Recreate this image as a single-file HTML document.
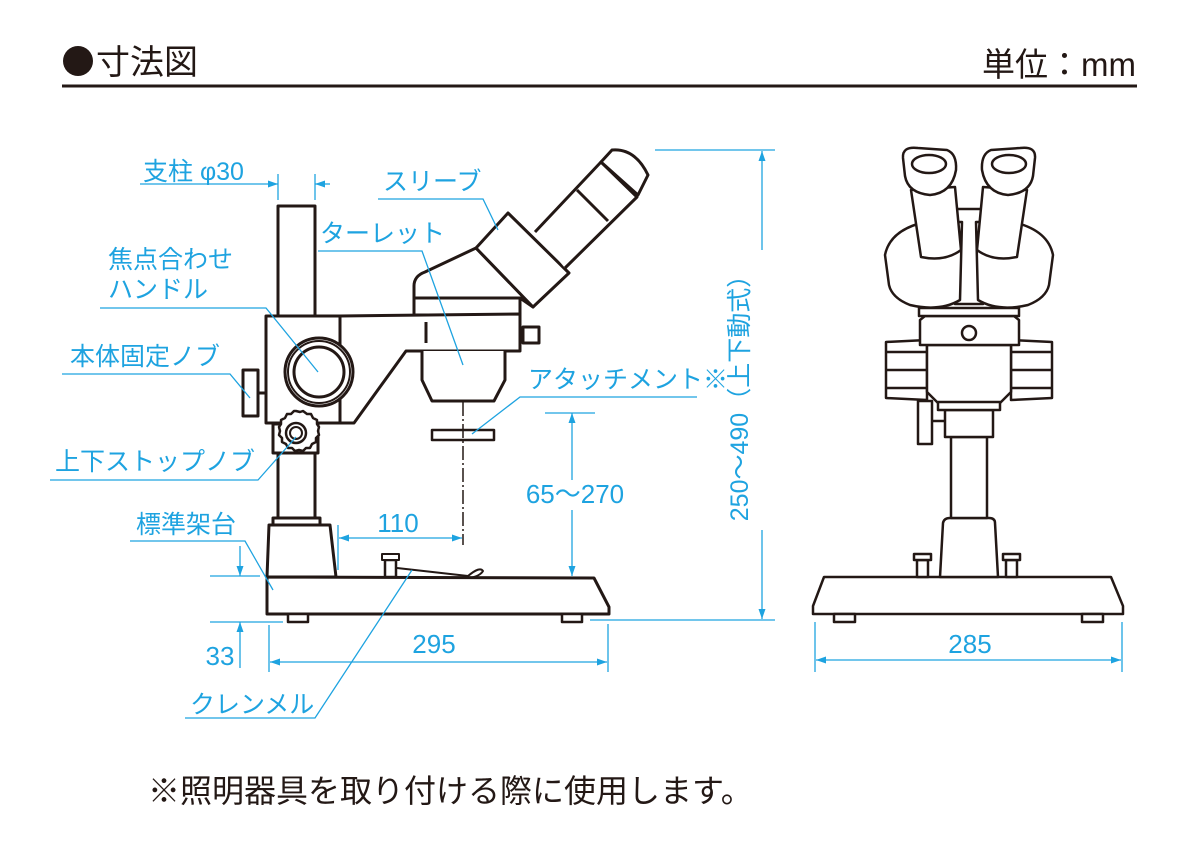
<!DOCTYPE html>
<html><head><meta charset="utf-8"><style>
html,body{margin:0;padding:0;background:#fff;}
svg{display:block;}
.b{fill:#1ea3e0;font-family:"Liberation Sans","Noto Sans CJK JP",sans-serif;font-size:25px;}
.k{fill:#231815;font-family:"Liberation Sans","Noto Sans CJK JP",sans-serif;}
</style></head><body>
<svg width="1200" height="850" viewBox="0 0 1200 850" xmlns="http://www.w3.org/2000/svg">
<defs>
<marker id="a" viewBox="0 0 10 10" refX="10" refY="5" markerWidth="10" markerHeight="10" markerUnits="userSpaceOnUse" orient="auto-start-reverse"><path d="M0,1.5 L10,5 L0,8.5z" fill="#1ea3e0"/></marker>
</defs>
<!-- title -->
<circle cx="78" cy="61" r="15" fill="#231815"/>
<text class="k" x="96" y="74" font-size="34">寸法図</text>
<text class="k" x="1136" y="76" font-size="33" text-anchor="end">単位：mm</text>
<rect x="62" y="84.5" width="1075" height="3" fill="#231815"/>

<!-- SIDE VIEW -->
<g fill="#fff" stroke="#231815" stroke-width="3" stroke-linejoin="round">
<rect x="278" y="206" width="37" height="112"/>
<path d="M414,315 L414,286 Q414,276 425,272 L476,248 L533,307 L520,298 L414,298"/>
<rect x="414" y="298" width="106" height="17"/>
<path d="M340,316 L520,314 L520,351 L406,351 L354,423 L340,423z"/>
<line x1="426" y1="322" x2="426" y2="343"/>
<rect x="523" y="327" width="16" height="16"/>
<line x1="520" y1="335" x2="523" y2="335"/>
<path d="M422,351 L422,380 L432,401 L494,401 L505,380 L505,351"/>
<rect x="432" y="430" width="62" height="10" stroke-width="2.5"/>
<path d="M476,248 L508,213 L569,273 L533,307z"/>
<path d="M535,232 L601,162 L637,197 L565,268"/>
<line x1="577" y1="190" x2="608" y2="221"/>
<path d="M601,162 L612,150 Q635,148 648,175 L638,195 z"/>
<rect x="266" y="316" width="74" height="107"/>
<circle cx="319" cy="372" r="34"/>
<circle cx="319" cy="372" r="31" stroke-width="2"/>
<circle cx="319" cy="372" r="25"/>
<rect x="243" y="370" width="15" height="46"/>
<line x1="258" y1="393" x2="266" y2="393"/>
<rect x="273" y="424" width="45" height="29"/>
<path d="M296,411 l4,1 3,-1 4,3 4,0 2,4 4,2 0,4 2,3 -1,4 1,4 -3,3 0,4 -4,2 -2,4 -4,0 -3,3 -4,-1 -4,1 -3,-3 -4,0 -2,-4 -4,-2 0,-4 -3,-3 1,-4 -1,-4 2,-3 0,-4 4,-2 2,-4 4,0 3,-3z" stroke-width="2.5"/>
<circle cx="296" cy="433" r="10" stroke-width="2.5"/>
<circle cx="296" cy="433" r="6" stroke-width="2"/>
<rect x="278" y="453" width="37" height="65"/>
<rect x="273" y="518" width="47" height="7"/>
<path d="M269,525 L330,525 L336,577 L267,577z"/>
<path d="M267,577 L594,578 L609,607 L609,614 L267,614z"/>
<rect x="288" y="614" width="20" height="8" stroke-width="2.5"/>
<rect x="562" y="614" width="20" height="8" stroke-width="2.5"/>
<rect x="385" y="560" width="11" height="17" stroke-width="2.5"/>
<rect x="382" y="554" width="17" height="6" stroke-width="2"/>
<path d="M397,568 L468,576 Q480,566 483,571 Q480,576 470,578" fill="none" stroke-width="2"/>
</g>
<line x1="463" y1="402" x2="463" y2="545" stroke="#231815" stroke-width="1.5" stroke-dasharray="14,3,2,3"/>

<!-- FRONT VIEW -->
<g fill="#fff" stroke="#231815" stroke-width="2.5" stroke-linejoin="round">
<path d="M824,577 L1111,577 L1123,606 L1123,614 L813,614 L813,606z"/>
<rect x="834" y="614" width="21" height="8"/>
<rect x="1082" y="614" width="21" height="8"/>
<rect x="917" y="560" width="11" height="17"/><rect x="914" y="554" width="17" height="6"/>
<rect x="1006" y="560" width="11" height="17"/><rect x="1003" y="554" width="17" height="6"/>
<path d="M940,577 L943,523 Q944,518 950,518 L989,518 Q995,518 995,523 L998,577z"/>
<rect x="951" y="437" width="36" height="81"/>
<rect x="918" y="401" width="14" height="43"/>
<line x1="932" y1="421" x2="945" y2="421"/>
<rect x="945" y="410" width="48" height="27"/>
<path d="M886,342 L927,340 L927,400 L886,398z"/>
<path d="M1052,342 L1011,340 L1011,400 L1052,398z"/>
<path d="M886,352 L927,352 M886,370 L927,370 M886,388 L927,388 M1011,352 L1052,352 M1011,370 L1052,370 M1011,388 L1052,388" fill="none"/>
<path d="M927,345 L1011,345 L1011,392 L1000,403 L938,403 L927,392z"/>
<rect x="938" y="402" width="62" height="8"/>
<path d="M920,320 L925,316 L1014,316 L1019,320 L1019,345 L920,345z"/>
<circle cx="969" cy="333" r="7"/>
<rect x="919" y="308" width="100" height="8"/>
<rect x="955" y="209" width="28" height="95"/>
<path d="M885,255 Q890,230 925,222 L962,222 L960,300 Q940,312 910,305 Q892,298 889,285z"/>
<path d="M1053,255 Q1048,230 1013,222 L976,222 L978,300 Q998,312 1028,305 Q1046,298 1049,285z"/>
<path d="M911,190 L955,187 L961,250 Q945,262 921,257z"/>
<path d="M1027,190 L983,187 L977,250 Q993,262 1017,257z"/>
<path d="M903,158 Q902,146 918,148 L947,150 Q957,154 956,170 Q952,193 930,195 Q908,193 905,176z"/>
<ellipse cx="929" cy="164" rx="17" ry="9"/>
<path d="M1035,158 Q1036,146 1020,148 L991,150 Q981,154 982,170 Q986,193 1008,195 Q1030,193 1033,176z"/>
<ellipse cx="1009" cy="164" rx="17" ry="9"/>
</g>

<!-- BLUE DIMENSIONS & LEADERS -->
<g stroke="#1ea3e0" stroke-width="1.3" fill="none">
<line x1="140" y1="184" x2="278" y2="184" marker-end="url(#a)"/>
<line x1="330" y1="184" x2="315" y2="184" marker-end="url(#a)"/>
<line x1="278" y1="174" x2="278" y2="200"/><line x1="315" y1="174" x2="315" y2="200"/>
<polyline points="378,199 483,199 498,230"/>
<polyline points="318,251 422,251 463,365"/>
<polyline points="100,308 266,308 318,372"/>
<polyline points="62,374 230,374 250,398"/>
<polyline points="50,480 258,480 296,437"/>
<polyline points="130,541 245,541 273,590"/>
<polyline points="697,397 520,397 472,434"/>
<polyline points="185,718 315,718 412,570"/>
<line x1="545" y1="413" x2="595" y2="413"/>
<line x1="572" y1="480" x2="572" y2="413" marker-end="url(#a)"/>
<line x1="572" y1="510" x2="572" y2="576" marker-end="url(#a)"/>
<line x1="338" y1="525" x2="338" y2="570"/>
<line x1="400" y1="538" x2="339" y2="538" marker-end="url(#a)"/>
<line x1="400" y1="538" x2="462" y2="538" marker-end="url(#a)"/>
<line x1="210" y1="576" x2="260" y2="576"/>
<line x1="210" y1="622" x2="283" y2="622"/>
<line x1="240" y1="546" x2="240" y2="576" marker-end="url(#a)"/>
<line x1="240" y1="668" x2="240" y2="622" marker-end="url(#a)"/>
<line x1="269" y1="625" x2="269" y2="672"/><line x1="608" y1="624" x2="608" y2="672"/>
<line x1="440" y1="662" x2="270" y2="662" marker-end="url(#a)"/>
<line x1="440" y1="662" x2="607" y2="662" marker-end="url(#a)"/>
<line x1="655" y1="150" x2="775" y2="150"/>
<line x1="590" y1="620" x2="775" y2="620"/>
<line x1="762" y1="250" x2="762" y2="151" marker-end="url(#a)"/>
<line x1="762" y1="530" x2="762" y2="619" marker-end="url(#a)"/>
<line x1="815" y1="622" x2="815" y2="672"/><line x1="1122" y1="622" x2="1122" y2="672"/>
<line x1="970" y1="660" x2="816" y2="660" marker-end="url(#a)"/>
<line x1="970" y1="660" x2="1121" y2="660" marker-end="url(#a)"/>
</g>
<g class="b">
<text x="143" y="180">支柱 φ30</text>
<text x="383" y="190">スリーブ</text>
<text x="320" y="242">ターレット</text>
<text x="108" y="268">焦点合わせ</text>
<text x="108" y="298">ハンドル</text>
<text x="70" y="365">本体固定ノブ</text>
<text x="55" y="470">上下ストップノブ</text>
<text x="136" y="533">標準架台</text>
<text x="528" y="388">アタッチメント※</text>
<text x="575" y="503" text-anchor="middle" font-size="26">65～270</text>
<text x="398" y="532" text-anchor="middle" font-size="26">110</text>
<text x="220" y="665" text-anchor="middle" font-size="26">33</text>
<text x="434" y="653" text-anchor="middle" font-size="26">295</text>
<text x="190" y="713">クレンメル</text>
<text x="970" y="653" text-anchor="middle" font-size="26">285</text>
<text transform="translate(748,392) rotate(-90)" text-anchor="middle" font-size="25">250～490（上下動式）</text>
</g>
<text class="k" x="148" y="802" font-size="32">※照明器具を取り付ける際に使用します。</text>
</svg>
</body></html>
